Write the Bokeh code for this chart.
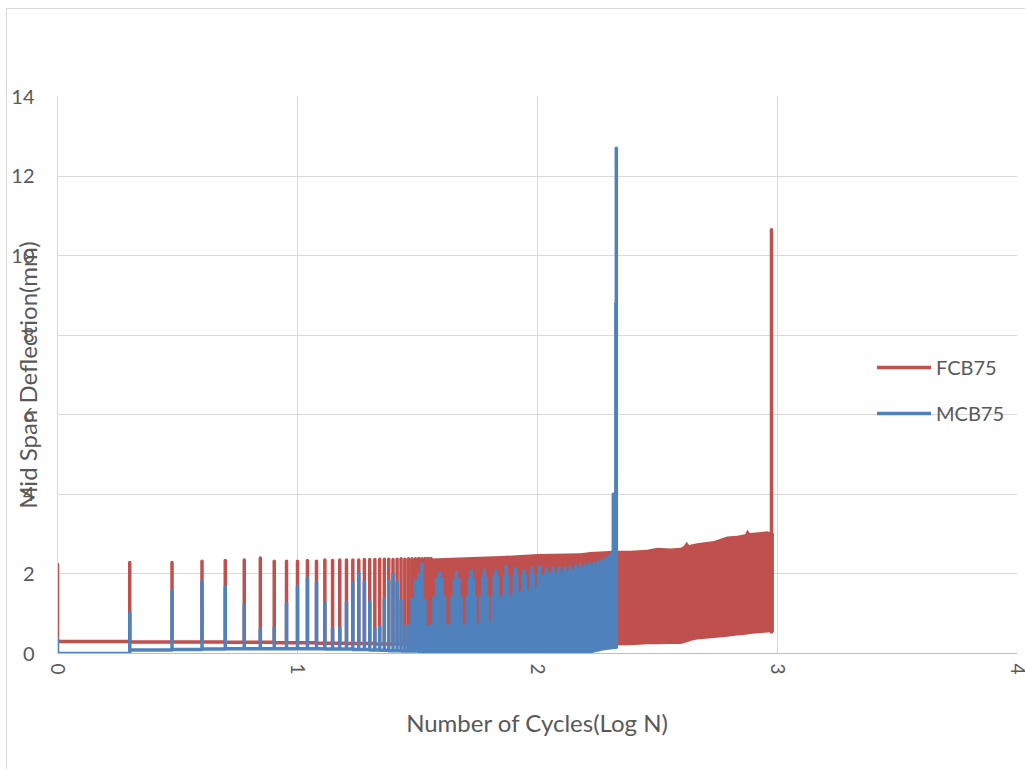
import numpy as np
from bokeh.plotting import figure
from bokeh.models import Legend, LegendItem, FixedTicker, Range1d
from bokeh.embed import file_html
from bokeh.resources import INLINE

# ---------------------------------------------------------------------------
# Data: mid-span deflection (mm) per load cycle N
# ---------------------------------------------------------------------------

# FCB75 - individual cycles N = 1..36 (peak and trough deflection per cycle)
fcb_peak = [2.24, 2.29, 2.29, 2.32, 2.34, 2.35, 2.40, 2.32, 2.32, 2.32,
            2.34, 2.32, 2.35, 2.34, 2.35, 2.35, 2.35, 2.35, 2.36, 2.36,
            2.36, 2.37, 2.37, 2.37, 2.36, 2.37, 2.38, 2.37, 2.38, 2.38,
            2.38, 2.39, 2.38, 2.39, 2.39, 2.39]
fcb_trough = [0.30, 0.29, 0.29, 0.29, 0.28, 0.28, 0.28, 0.27, 0.27, 0.27,
              0.27, 0.26, 0.26, 0.26, 0.26, 0.25, 0.25, 0.25, 0.25, 0.25,
              0.24, 0.24, 0.24, 0.24, 0.24, 0.24, 0.24, 0.24, 0.24, 0.24,
              0.24, 0.24, 0.24, 0.24, 0.24, 0.24]

# FCB75 - densely packed cycles (N > 36): range swept by each cycle, vs log N
fcb_band_logn = [1.556, 1.70, 1.85, 2.00, 2.179, 2.221, 2.317, 2.388, 2.457,
                 2.499, 2.554, 2.596, 2.610, 2.621, 2.632, 2.640, 2.665,
                 2.735, 2.790, 2.832, 2.865, 2.874, 2.885, 2.957, 2.985]
fcb_band_high = [2.39, 2.42, 2.45, 2.50, 2.52, 2.55, 2.58, 2.58, 2.61,
                 2.66, 2.64, 2.66, 2.70, 2.81, 2.72, 2.74, 2.77,
                 2.83, 2.94, 2.96, 3.00, 3.11, 3.03, 3.07, 3.02]
fcb_band_low = [0.24, 0.23, 0.22, 0.21, 0.21, 0.20, 0.20, 0.21, 0.23,
                0.23, 0.24, 0.24, 0.26, 0.28, 0.30, 0.32, 0.35,
                0.39, 0.42, 0.45, 0.47, 0.48, 0.49, 0.53, 0.54]

# FCB75 - failure cycle
fcb_fail_cycle = 944
fcb_fail_low = 0.54
fcb_fail_peak = 10.65

# MCB75 - peak deflection per cycle, seven cycles per row (N = 1..213)
mcb_peak_rows = [
    [0.36, 1.01, 1.57, 1.80, 1.67, 1.23, 0.62],
    [0.65, 1.26, 1.69, 1.90, 1.79, 1.27, 0.62],
    [0.65, 1.29, 1.78, 2.03, 1.80, 1.30, 0.62],
    [0.68, 1.37, 1.82, 1.98, 1.79, 1.33, 0.68],
    [0.70, 1.37, 1.82, 1.98, 2.25, 1.33, 0.68],
    [0.70, 1.40, 1.88, 2.02, 1.88, 1.40, 0.70],
    [0.70, 1.40, 1.85, 2.04, 1.86, 1.40, 0.70],
    [0.70, 1.42, 1.88, 2.08, 1.88, 1.42, 0.72],
    [0.72, 1.42, 1.90, 2.10, 1.90, 1.42, 0.75],
    [0.78, 1.42, 1.92, 2.08, 1.92, 1.45, 1.20],
    [1.38, 1.45, 1.95, 2.19, 1.95, 1.45, 1.38],
    [1.40, 1.50, 1.95, 2.13, 1.95, 1.50, 1.40],
    [1.42, 1.55, 1.96, 2.08, 1.96, 1.55, 1.44],
    [1.45, 1.60, 1.98, 2.15, 1.98, 1.60, 1.42],
    [1.45, 1.65, 2.00, 2.17, 2.00, 1.80, 1.90],
    [1.92, 1.94, 2.00, 2.13, 2.00, 1.94, 1.95],
    [1.96, 1.98, 2.04, 2.15, 2.04, 1.98, 1.96],
    [1.96, 1.98, 2.05, 2.15, 2.05, 1.98, 1.98],
    [1.98, 2.00, 2.06, 2.14, 2.06, 2.00, 2.00],
    [2.00, 2.02, 2.08, 2.18, 2.08, 2.02, 2.00],
    [2.02, 2.04, 2.10, 2.20, 2.10, 2.04, 2.02],
    [2.02, 2.06, 2.12, 2.23, 2.12, 2.06, 2.04],
    [2.05, 2.08, 2.14, 2.22, 2.14, 2.08, 2.06],
    [2.06, 2.10, 2.16, 2.25, 2.16, 2.10, 2.08],
    [2.10, 2.12, 2.18, 2.27, 2.18, 2.14, 2.12],
    [2.14, 2.16, 2.22, 2.30, 2.22, 2.18, 2.16],
    [2.18, 2.20, 2.26, 2.34, 2.26, 2.22, 2.20],
    [2.22, 2.26, 2.32, 2.40, 2.32, 2.28, 2.26],
    [2.30, 2.34, 2.40, 2.45, 2.42, 2.40, 2.42],
    [2.50, 2.55, 2.40, 4.00, 2.50, 2.48, 2.52],
    [2.55, 8.80, 12.70],
]

# MCB75 - trough deflection per cycle, same layout
mcb_trough_rows = [
    [0.00, 0.09, 0.10, 0.11, 0.12, 0.12, 0.12],
    [0.12, 0.12, 0.12, 0.12, 0.12, 0.11, 0.11],
    [0.11, 0.11, 0.10, 0.10, 0.10, 0.09, 0.09],
    [0.08, 0.08, 0.07, 0.07, 0.07, 0.06, 0.06],
    [0.06, 0.06, 0.06, 0.05, 0.05, 0.05, 0.05],
    [0.05, 0.05, 0.05, 0.05, 0.05, 0.05, 0.05],
    [0.05, 0.05, 0.05, 0.05, 0.05, 0.05, 0.05],
    [0.05, 0.05, 0.05, 0.05, 0.05, 0.05, 0.05],
    [0.05, 0.05, 0.05, 0.05, 0.05, 0.05, 0.05],
    [0.05, 0.05, 0.05, 0.05, 0.05, 0.05, 0.05],
    [0.05, 0.05, 0.05, 0.05, 0.05, 0.05, 0.05],
    [0.05, 0.05, 0.05, 0.05, 0.05, 0.05, 0.05],
    [0.05, 0.05, 0.05, 0.05, 0.05, 0.05, 0.05],
    [0.05, 0.05, 0.05, 0.05, 0.05, 0.05, 0.05],
    [0.05, 0.05, 0.05, 0.05, 0.05, 0.05, 0.05],
    [0.05, 0.05, 0.05, 0.05, 0.05, 0.05, 0.05],
    [0.05, 0.05, 0.05, 0.05, 0.05, 0.05, 0.05],
    [0.05, 0.05, 0.05, 0.05, 0.05, 0.05, 0.05],
    [0.05, 0.05, 0.05, 0.05, 0.05, 0.05, 0.05],
    [0.05, 0.05, 0.05, 0.05, 0.05, 0.05, 0.05],
    [0.05, 0.05, 0.05, 0.05, 0.05, 0.05, 0.05],
    [0.05, 0.05, 0.05, 0.05, 0.05, 0.05, 0.05],
    [0.05, 0.05, 0.05, 0.05, 0.05, 0.05, 0.05],
    [0.05, 0.05, 0.05, 0.05, 0.05, 0.05, 0.05],
    [0.06, 0.06, 0.07, 0.07, 0.08, 0.08, 0.08],
    [0.09, 0.09, 0.09, 0.10, 0.10, 0.10, 0.11],
    [0.11, 0.11, 0.12, 0.12, 0.12, 0.12, 0.13],
    [0.13, 0.13, 0.13, 0.13, 0.14, 0.14, 0.14],
    [0.14, 0.14, 0.14, 0.15, 0.15, 0.15, 0.15],
    [0.15, 0.15, 0.15, 0.16, 0.16, 0.16, 0.16],
    [0.16, 0.16, 1.12],
]

series_names = ["FCB75", "MCB75"]
x_ticks = [0, 1, 2, 3, 4]
y_ticks = [0, 2, 4, 6, 8, 10, 12, 14]

# ---------------------------------------------------------------------------
# Styling
# ---------------------------------------------------------------------------
FONT = "Lato"
TEXT = "#595959"
RED = "#C0504D"
BLUE = "#4F81BD"
GRID = "#D9D9D9"
LW = 3.5


def cycle_path(peaks, troughs):
    """Each cycle is a vertical excursion at x = log10(N): from the previous
    trough up to the cycle's peak and back down to its own trough."""
    xs, ys = [], []
    prev = troughs[0]
    for i, (pk, tr) in enumerate(zip(peaks, troughs)):
        x = float(np.log10(i + 1))
        xs += [x, x, x]
        ys += [prev, pk, tr]
        prev = tr
    return xs, ys


mcb_peak = [v for row in mcb_peak_rows for v in row]
mcb_trough = [v for row in mcb_trough_rows for v in row]

p = figure(
    width=1019, height=761,
    x_range=Range1d(0, 4), y_range=Range1d(0, 14),
    output_backend="svg", toolbar_location=None,
    min_border_left=50, min_border_right=9,
    min_border_top=87, min_border_bottom=117,
    background_fill_color="white", border_fill_color="white",
)
p.margin = (8, 0, 0, 6)
p.styles = {"border-left": "1px solid #D9D9D9", "border-top": "1px solid #D9D9D9"}
p.outline_line_color = None

# grid
p.xgrid.ticker = FixedTicker(ticks=x_ticks)
p.ygrid.ticker = FixedTicker(ticks=y_ticks)
p.xgrid.grid_line_color = GRID
p.ygrid.grid_line_color = GRID
p.xgrid.grid_line_width = 1
p.ygrid.grid_line_width = 1

# axes
p.xaxis.ticker = FixedTicker(ticks=x_ticks)
p.yaxis.ticker = FixedTicker(ticks=y_ticks)
for ax in (p.xaxis[0], p.yaxis[0]):
    ax.major_tick_in = 0
    ax.major_tick_out = 0
    ax.minor_tick_in = 0
    ax.minor_tick_out = 0
    ax.major_label_text_font = FONT
    ax.major_label_text_font_size = "20px"
    ax.major_label_text_color = TEXT
    ax.axis_label_text_font = FONT
    ax.axis_label_text_font_size = "24px"
    ax.axis_label_text_color = TEXT
    ax.axis_label_text_font_style = "normal"

p.xaxis.axis_line_color = "#BFBFBF"
p.yaxis.axis_line_color = GRID
p.xaxis.axis_label = "Number of Cycles(Log N)"
p.yaxis.axis_label = "Mid Span Deflection(mm)"
p.xaxis.major_label_orientation = -np.pi / 2
p.xaxis.major_label_text_font_size = "19px"
p.xaxis.major_label_standoff = 10
p.xaxis.axis_label_standoff = 30
p.yaxis.major_label_standoff = 23
p.yaxis.axis_label_standoff = -34

# FCB75
p.varea(x=fcb_band_logn, y1=fcb_band_low, y2=fcb_band_high, fill_color=RED)
fx, fy = cycle_path(fcb_peak, fcb_trough)
red_line = p.line(fx, fy, line_color=RED, line_width=LW,
                  line_join="round", line_cap="round")
fail_x = float(np.log10(fcb_fail_cycle))
p.line([fail_x, fail_x], [fcb_fail_low, fcb_fail_peak], line_color=RED,
       line_width=LW, line_cap="round")

# MCB75
mx, my = cycle_path(mcb_peak, mcb_trough)
blue_line = p.line(mx, my, line_color=BLUE, line_width=LW,
                   line_join="round", line_cap="round")

legend = Legend(
    items=[LegendItem(label=series_names[0], renderers=[red_line]),
           LegendItem(label=series_names[1], renderers=[blue_line])],
    location=(820, 228),
    orientation="vertical",
    glyph_width=54, glyph_height=20, label_height=20,
    label_standoff=5, spacing=22, padding=0, margin=0,
    label_text_font=FONT, label_text_font_size="20px",
    label_text_color=TEXT,
    background_fill_alpha=0, border_line_color=None,
)
p.add_layout(legend)

open("out.html", "w").write(file_html(p, INLINE))
